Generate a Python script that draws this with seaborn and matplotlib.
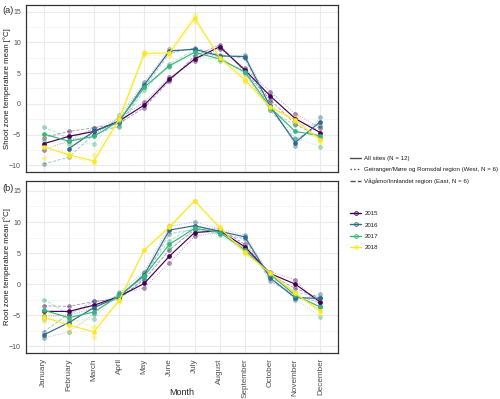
import matplotlib
matplotlib.use("Agg")
import matplotlib.pyplot as plt
from matplotlib.lines import Line2D
from matplotlib.ticker import MultipleLocator
import seaborn as sns
import pandas as pd
import numpy as np

months = ['January', 'February', 'March', 'April', 'May', 'June', 'July',
          'August', 'September', 'October', 'November', 'December']
years = [2015, 2016, 2017, 2018]
nan = np.nan

# Shoot zone (a): all sites, West (Geiranger), East (Vågåmo)
shoot_all = {
    2015: [-6.5, -5.3, -4.5, -2.8, -0.2, 4.0, 7.3, 9.3, 5.5, 1.3, -2.4, -4.7],
    2016: [nan, -7.3, -4.5, -2.9, 3.1, 8.6, 8.9, 7.8, 7.7, -0.4, -6.3, -2.9],
    2017: [-4.9, -6.1, -5.3, -2.8, 2.7, 6.2, 8.4, 7.3, 5.2, -0.6, -4.5, -5.2],
    2018: [-7.0, -8.3, -9.3, -2.5, 8.2, 8.3, 14.0, 7.5, 3.9, -0.5, -2.6, -5.9],
}
shoot_west = {
    2015: [-7.5, -6.0, -5.0, -2.3, 0.3, 4.3, 7.0, 9.0, 5.8, 2.0, -1.6, -3.9],
    2016: [nan, -6.0, -4.0, -2.4, 3.5, 8.9, 8.7, 7.6, 8.0, 0.3, -6.8, -2.2],
    2017: [-6.0, -6.6, -6.5, -1.8, 3.2, 6.0, 8.0, 7.0, 5.5, -0.2, -5.5, -7.0],
    2018: [-8.9, -8.0, -8.4, -2.0, 8.5, 8.8, 14.5, 7.2, 3.5, -0.8, -2.2, -5.5],
}
shoot_east = {
    2015: [-5.5, -4.5, -3.9, -3.2, -0.6, 3.7, 7.8, 9.6, 5.2, 0.7, -3.3, -5.5],
    2016: [-9.8, -8.7, -5.0, -3.6, 2.7, 8.2, 9.1, 8.0, 7.4, -1.0, -5.8, -3.6],
    2017: [-3.8, -5.6, -4.1, -3.8, 2.2, 6.5, 8.8, 7.6, 4.9, -1.0, -3.5, -3.4],
    2018: [-5.1, -8.6, -9.6, -3.0, 7.9, 7.8, 13.5, 7.8, 4.3, -0.2, -3.0, -6.3],
}

# Root zone (b)
root_all = {
    2015: [-4.4, -4.4, -3.4, -2.0, 0.1, 4.5, 8.3, 8.6, 6.0, 1.7, 0.0, -2.9],
    2016: [-8.2, -6.2, -3.8, -2.0, 1.5, 8.7, 9.4, 8.5, 7.6, 1.0, -2.2, -2.3],
    2017: [-4.2, -5.4, -4.5, -1.9, 1.3, 6.4, 9.0, 8.3, 5.5, 1.6, -1.8, -3.7],
    2018: [-5.3, -6.6, -7.7, -2.6, 5.5, 9.2, 13.4, 9.1, 5.1, 1.8, -1.5, -4.4],
}
root_west = {
    2015: [-5.2, -5.0, -3.9, -1.6, -0.6, 3.4, 7.7, 8.3, 5.6, 2.0, 0.7, -3.5],
    2016: [-8.7, -7.7, -4.8, -1.4, 2.0, 9.3, 10.0, 8.9, 7.9, 1.5, -2.6, -1.6],
    2017: [-5.6, -6.0, -5.6, -1.3, 0.8, 5.8, 8.6, 7.9, 5.2, 1.9, -2.3, -5.3],
    2018: [-5.9, -7.6, -8.5, -2.3, 5.5, 9.5, 13.4, 8.9, 4.8, 2.0, -1.2, -4.8],
}
root_east = {
    2015: [-3.5, -3.6, -2.8, -2.3, 0.7, 5.5, 8.8, 8.9, 6.4, 1.5, -0.7, -2.3],
    2016: [-7.7, -4.8, -2.8, -2.5, 1.0, 8.1, 8.8, 8.1, 7.3, 0.5, -1.8, -3.0],
    2017: [-2.5, -4.8, -3.4, -2.4, 1.8, 7.0, 9.3, 8.6, 5.8, 1.3, -1.3, -2.1],
    2018: [-4.7, -5.6, -6.9, -2.9, 5.5, 8.9, 13.4, 9.3, 5.4, 1.6, -1.8, -4.0],
}

region_labels = ['All sites (N = 12)',
                 'Geiranger/Møre og Romsdal region (West, N = 6)',
                 'Vågåmo/Innlandet region (East, N = 6)']

sns.set_theme(style="white")
plt.rcParams['font.family'] = ['Liberation Sans', 'DejaVu Sans']

palette = dict(zip(years, ["#440154", "#31688E", "#35B779", "#FDE725"]))
# (linestyle, linewidth, alpha)
styles = [('-', 0.85, 1.0), (':', 0.65, 0.4), ('--', 0.65, 0.4)]

fig = plt.figure(figsize=(5.0, 3.99), dpi=100)
ax_a = fig.add_axes([0.052, 0.569, 0.624, 0.4185])
ax_b = fig.add_axes([0.052, 0.1153, 0.624, 0.431])


def draw_panel(ax, series, ylim, ylabel):
    for (ls, lw, alpha), data in zip(styles[::-1], series[::-1]):
        for yr in years:
            df = pd.DataFrame({'m': np.arange(12), 't': data[yr]}).dropna()
            c = palette[yr]
            sns.lineplot(data=df, x='m', y='t', ax=ax, color=c, linestyle=ls,
                         linewidth=lw, alpha=alpha, marker='o', markersize=2.8,
                         markerfacecolor=matplotlib.colors.to_rgba(c, 0.25),
                         markeredgecolor=matplotlib.colors.to_rgba(c, 0.6),
                         markeredgewidth=0.5)
    ax.set_xlim(-0.7, 11.7)
    ax.set_ylim(*ylim)
    ax.yaxis.set_major_locator(MultipleLocator(5))
    ax.yaxis.set_minor_locator(MultipleLocator(2.5))
    ax.set_xticks(np.arange(12))
    ax.grid(True, which='major', color='#EBEBEB', linewidth=0.8)
    ax.grid(True, which='minor', axis='y', color='#F2F2F2', linewidth=0.5)
    ax.set_axisbelow(True)
    for s in ax.spines.values():
        s.set_color('#333333')
        s.set_linewidth(0.9)
    ax.tick_params(axis='both', which='major', length=2.5, width=0.5,
                   color='#333333', labelcolor='#4D4D4D', pad=1.2)
    ax.tick_params(axis='y', labelsize=5.0)
    ax.tick_params(axis='x', labelsize=5.9)
    ax.tick_params(axis='both', which='minor', length=0)
    ax.set_xlabel('')
    ax.set_ylabel(ylabel, fontsize=5.6, color='#1A1A1A')
    ax.yaxis.set_label_coords(-0.047, 0.5)


draw_panel(ax_a, [shoot_all, shoot_west, shoot_east], (-11.1, 16.1),
           'Shoot zone temperature mean [°C]')
draw_panel(ax_b, [root_all, root_west, root_east], (-11.1, 16.6),
           'Root zone temperature mean [°C]')

ax_a.set_xticklabels([])
ax_b.set_xticklabels(months, rotation=90)

fig.text(0.004, 0.986, '(a)', fontsize=6.6, va='top', ha='left')
fig.text(0.004, 0.540, '(b)', fontsize=6.6, va='top', ha='left')
fig.text(0.364, 0.0175, 'Month', fontsize=6.5, ha='center', va='center')

lt_handles = [Line2D([0], [0], color='#4D4D4D', linestyle=ls, linewidth=1.0)
              for ls, _, _ in styles]
leg1 = fig.legend(lt_handles, region_labels, loc='upper left',
                  bbox_to_anchor=(0.694, 0.618), frameon=False, fontsize=4.4,
                  handlelength=1.8, handletextpad=0.55, labelspacing=1.0,
                  borderpad=0)

yr_handles = [Line2D([0], [0], color=palette[y], linewidth=1.0, marker='o',
                     markersize=2.8,
                     markerfacecolor=matplotlib.colors.to_rgba(palette[y], 0.3),
                     markeredgecolor=palette[y], markeredgewidth=0.5)
              for y in years]
leg2 = fig.legend(yr_handles, [str(y) for y in years], loc='upper left',
                  bbox_to_anchor=(0.694, 0.479), frameon=False, fontsize=4.4,
                  handlelength=1.8, handletextpad=0.55, labelspacing=1.0,
                  borderpad=0)
for leg in (leg1, leg2):
    for t in leg.get_texts():
        t.set_color('#1A1A1A')

fig.savefig('out.png', dpi=100)
